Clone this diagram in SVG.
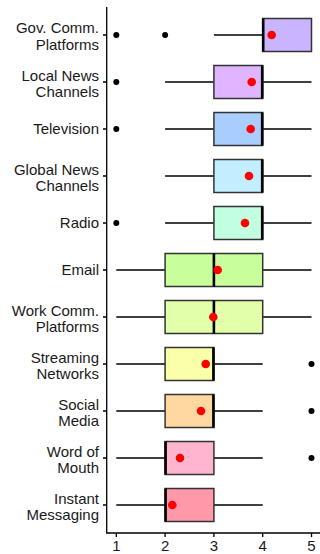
<svg xmlns="http://www.w3.org/2000/svg" width="320" height="554" viewBox="0 0 320 554">
<style>
.lbl{font-family:"Liberation Sans",Arial,sans-serif;font-size:15px;fill:#1a1a1a;text-anchor:end}
.tk{font-family:"Liberation Sans",Arial,sans-serif;font-size:15px;fill:#1a1a1a;text-anchor:middle}
.ax{stroke:#000;stroke-width:1.3;fill:none}
.wh{stroke:#000;stroke-width:1.3}
.box{stroke:#333;stroke-width:1.5}
.med{stroke:#000;stroke-width:2.6}
.mean{fill:#ff0000}
.out{fill:#000}
</style>
<rect width="320" height="554" fill="#fff"/>
<g id="axes">
<path class="ax" d="M106.7,7 V533 H320"/>
<path class="ax" d="M116.3,533 v4 M165.1,533 v4 M213.9,533 v4 M262.7,533 v4 M311.5,533 v4"/>
<path class="ax" d="M103,35 h3.7 M103,82 h3.7 M103,129 h3.7 M103,176 h3.7 M103,223 h3.7 M103,270 h3.7 M103,317 h3.7 M103,364 h3.7 M103,411 h3.7 M103,458 h3.7 M103,505 h3.7"/>
<text class="tk" x="116.3" y="551">1</text>
<text class="tk" x="165.1" y="551">2</text>
<text class="tk" x="213.9" y="551">3</text>
<text class="tk" x="262.7" y="551">4</text>
<text class="tk" x="311.5" y="551">5</text>
</g>
<g id="labels">
<text class="lbl" x="99" y="33.3">Gov. Comm.</text><text class="lbl" x="99" y="50">Platforms</text>
<text class="lbl" x="99" y="80.5">Local News</text><text class="lbl" x="99" y="96.8">Channels</text>
<text class="lbl" x="99" y="134.3">Television</text>
<text class="lbl" x="99" y="174.5">Global News</text><text class="lbl" x="99" y="190.8">Channels</text>
<text class="lbl" x="99" y="228.3">Radio</text>
<text class="lbl" x="99" y="275.3">Email</text>
<text class="lbl" x="99" y="315.5">Work Comm.</text><text class="lbl" x="99" y="331.8">Platforms</text>
<text class="lbl" x="99" y="362.5">Streaming</text><text class="lbl" x="99" y="378.8">Networks</text>
<text class="lbl" x="99" y="409.5">Social</text><text class="lbl" x="99" y="425.8">Media</text>
<text class="lbl" x="99" y="456.5">Word of</text><text class="lbl" x="99" y="472.8">Mouth</text>
<text class="lbl" x="99" y="503.5">Instant</text><text class="lbl" x="99" y="519.8">Messaging</text>
</g>
<g id="connectors">
<path class="wh" d="M213.9,35 H262.7"/>
<path class="wh" d="M165.1,82 H213.9 M262.7,82 H311.5"/>
<path class="wh" d="M165.1,129 H213.9 M262.7,129 H311.5"/>
<path class="wh" d="M165.1,176 H213.9 M262.7,176 H311.5"/>
<path class="wh" d="M165.1,223 H213.9 M262.7,223 H311.5"/>
<path class="wh" d="M116.3,270 H165.1 M262.7,270 H311.5"/>
<path class="wh" d="M116.3,317 H165.1 M262.7,317 H311.5"/>
<path class="wh" d="M116.3,364 H165.1 M213.9,364 H262.7"/>
<path class="wh" d="M116.3,411 H165.1 M213.9,411 H262.7"/>
<path class="wh" d="M116.3,458 H165.1 M213.9,458 H262.7"/>
<path class="wh" d="M116.3,505 H165.1 M213.9,505 H262.7"/>
</g>
<g id="gov">
<rect class="box" x="262.7" y="18.5" width="48.8" height="33" fill="#c8b4ff"/>
<line class="med" x1="263.2" y1="18.5" x2="263.2" y2="51.5"/>
<circle class="out" cx="116.3" cy="35" r="3"/><circle class="out" cx="165.1" cy="35" r="3"/>
<circle class="mean" cx="271.7" cy="35" r="4.3"/>
</g>
<g id="localnews">
<rect class="box" x="213.9" y="65.5" width="48.8" height="33" fill="#e0b4ff"/>
<line class="med" x1="262.2" y1="65.5" x2="262.2" y2="98.5"/>
<circle class="out" cx="116.3" cy="82" r="3"/>
<circle class="mean" cx="251.7" cy="82" r="4.3"/>
</g>
<g id="television">
<rect class="box" x="213.9" y="112.5" width="48.8" height="33" fill="#aacdff"/>
<line class="med" x1="262.2" y1="112.5" x2="262.2" y2="145.5"/>
<circle class="out" cx="116.3" cy="129" r="3"/>
<circle class="mean" cx="250.7" cy="129" r="4.3"/>
</g>
<g id="globalnews">
<rect class="box" x="213.9" y="159.5" width="48.8" height="33" fill="#c2eeff"/>
<line class="med" x1="262.2" y1="159.5" x2="262.2" y2="192.5"/>
<circle class="mean" cx="249" cy="176" r="4.3"/>
</g>
<g id="radio">
<rect class="box" x="213.9" y="206.5" width="48.8" height="33" fill="#c2ffe0"/>
<line class="med" x1="262.2" y1="206.5" x2="262.2" y2="239.5"/>
<circle class="out" cx="116.3" cy="223" r="3"/>
<circle class="mean" cx="245" cy="223" r="4.3"/>
</g>
<g id="email">
<rect class="box" x="165.1" y="253.5" width="97.6" height="33" fill="#c8ff9a"/>
<line class="med" x1="213.9" y1="253.5" x2="213.9" y2="286.5"/>
<circle class="mean" cx="217.7" cy="270" r="4.3"/>
</g>
<g id="workcomm">
<rect class="box" x="165.1" y="300.5" width="97.6" height="33" fill="#e2ffaa"/>
<line class="med" x1="213.9" y1="300.5" x2="213.9" y2="333.5"/>
<circle class="mean" cx="213.3" cy="317" r="4.3"/>
</g>
<g id="streaming">
<rect class="box" x="165.1" y="347.5" width="48.8" height="33" fill="#faffaa"/>
<line class="med" x1="213.4" y1="347.5" x2="213.4" y2="380.5"/>
<circle class="out" cx="311.5" cy="364" r="3"/>
<circle class="mean" cx="205.7" cy="364" r="4.3"/>
</g>
<g id="social">
<rect class="box" x="165.1" y="394.5" width="48.8" height="33" fill="#ffd7a0"/>
<line class="med" x1="213.4" y1="394.5" x2="213.4" y2="427.5"/>
<circle class="out" cx="311.5" cy="411" r="3"/>
<circle class="mean" cx="201" cy="411" r="4.3"/>
</g>
<g id="wordofmouth">
<rect class="box" x="165.1" y="441.5" width="48.8" height="33" fill="#ffb4d0"/>
<line class="med" x1="165.6" y1="441.5" x2="165.6" y2="474.5"/>
<circle class="out" cx="311.5" cy="458" r="3"/>
<circle class="mean" cx="180" cy="458" r="4.3"/>
</g>
<g id="instant">
<rect class="box" x="165.1" y="488.5" width="48.8" height="33" fill="#ff98a8"/>
<line class="med" x1="165.6" y1="488.5" x2="165.6" y2="521.5"/>
<circle class="mean" cx="172.3" cy="505" r="4.3"/>
</g>
</svg>
